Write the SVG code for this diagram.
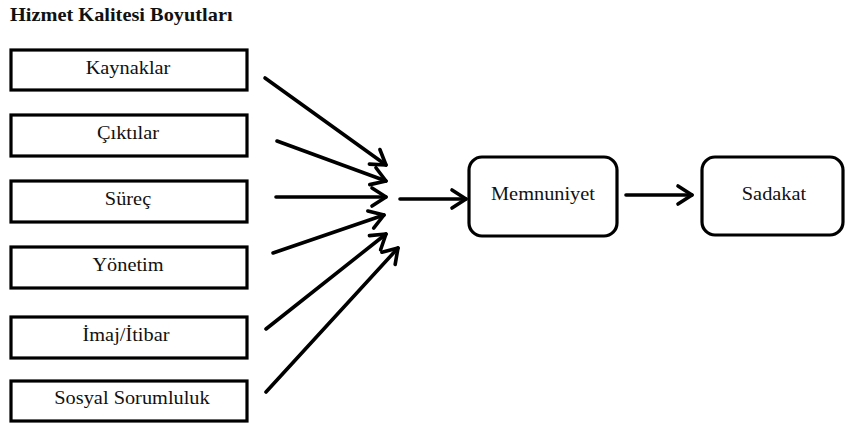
<svg xmlns="http://www.w3.org/2000/svg" width="847" height="426" viewBox="0 0 847 426">
<style>
.box{fill:#fff;stroke:#000;stroke-width:3.2}
.rbox{fill:#fff;stroke:#000;stroke-width:3.2}
text{font-family:'Liberation Serif','DejaVu Serif',serif}
.t{font-size:18.5px;fill:#111;text-anchor:middle}
.title{font-size:18.5px;font-weight:bold;fill:#111}
.c{stroke:#000;stroke-width:3.6;fill:none;stroke-linecap:round}
</style>
<defs>
<marker id="ah" markerUnits="userSpaceOnUse" viewBox="-18 -13 22 26" refX="0" refY="0" markerWidth="22" markerHeight="26" orient="auto">
<path d="M-14,-9 L0,0 L-14,9" fill="none" stroke="#000" stroke-width="3.6" stroke-linecap="round" stroke-linejoin="round"/>
</marker>
</defs>
<text class="title" transform="translate(10,21) scale(1.1,1)">Hizmet Kalitesi Boyutları</text>
<g id="kaynaklar"><rect class="box" x="11" y="50" width="236" height="40"/><text class="t" transform="translate(128,74) scale(1.1,1)">Kaynaklar</text></g>
<g id="ciktilar"><rect class="box" x="11" y="115" width="236" height="41"/><text class="t" transform="translate(128,139) scale(1.1,1)">Çıktılar</text></g>
<g id="surec"><rect class="box" x="11" y="181" width="236" height="41"/><text class="t" transform="translate(128,205) scale(1.1,1)">Süreç</text></g>
<g id="yonetim"><rect class="box" x="11" y="247" width="236" height="41"/><text class="t" transform="translate(128,271) scale(1.1,1)">Yönetim</text></g>
<g id="imaj"><rect class="box" x="11" y="317" width="236" height="41"/><text class="t" transform="translate(126,341) scale(1.1,1)">İmaj/İtibar</text></g>
<g id="sosyal"><rect class="box" x="11" y="381" width="236" height="40"/><text class="t" transform="translate(132,404) scale(1.1,1)">Sosyal Sorumluluk</text></g>
<g id="memnuniyet"><rect class="rbox" x="469" y="157" width="148" height="79" rx="13"/><text class="t" transform="translate(543,200) scale(1.1,1)">Memnuniyet</text></g>
<g id="sadakat"><rect class="rbox" x="702" y="157" width="141" height="78" rx="13"/><text class="t" transform="translate(774,200) scale(1.1,1)">Sadakat</text></g>
<g id="connectors">
<line class="c" x1="265" y1="78" x2="386" y2="165" marker-end="url(#ah)"/>
<line class="c" x1="277" y1="141" x2="386" y2="181" marker-end="url(#ah)"/>
<line class="c" x1="276" y1="197" x2="386" y2="197" marker-end="url(#ah)"/>
<line class="c" x1="273" y1="253" x2="384" y2="215" marker-end="url(#ah)"/>
<line class="c" x1="266" y1="329" x2="386" y2="234" marker-end="url(#ah)"/>
<line class="c" x1="266" y1="392" x2="398" y2="248" marker-end="url(#ah)"/>
<line class="c" x1="400" y1="199" x2="466" y2="199" marker-end="url(#ah)"/>
<line class="c" x1="626" y1="195" x2="692" y2="195" marker-end="url(#ah)"/>
</g>
</svg>
